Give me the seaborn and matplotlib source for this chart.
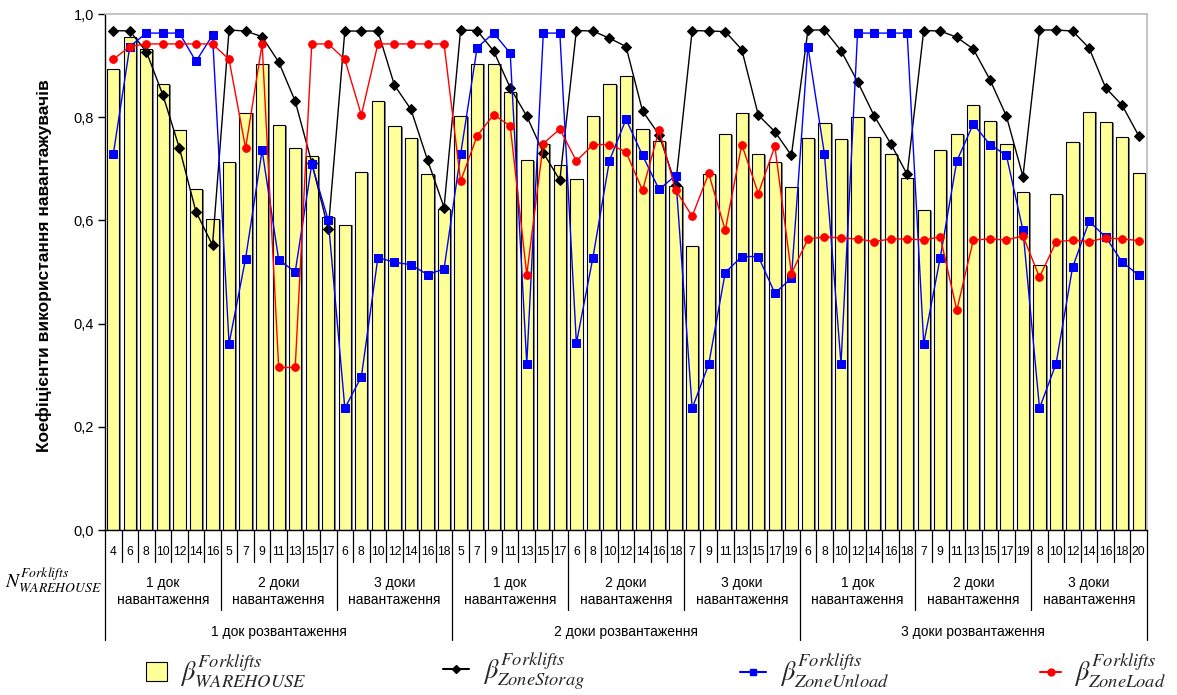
import numpy as np
import pandas as pd
import matplotlib
matplotlib.use("Agg")
import matplotlib.pyplot as plt
import matplotlib.patheffects as pe
from matplotlib.ticker import FuncFormatter
from matplotlib.lines import Line2D
from matplotlib.patches import Patch
import seaborn as sns

# ---------------- data ----------------
unload_groups = ["1 док розвантаження", "2 доки розвантаження", "3 доки розвантаження"]
load_groups = ["1 док\nнавантаження", "2 доки\nнавантаження", "3 доки\nнавантаження"]

n_forklifts = [
    "4", "6", "8", "10", "12", "14", "16",
    "5", "7", "9", "11", "13", "15", "17",
    "6", "8", "10", "12", "14", "16", "18",
    "5", "7", "9", "11", "13", "15", "17",
    "6", "8", "10", "12", "14", "16", "18",
    "7", "9", "11", "13", "15", "17", "19",
    "6", "8", "10", "12", "14", "16", "18",
    "7", "9", "11", "13", "15", "17", "19",
    "8", "10", "12", "14", "16", "18", "20",
]

beta_warehouse = [
    0.893, 0.956, 0.932, 0.864, 0.776, 0.660, 0.602,
    0.713, 0.809, 0.904, 0.784, 0.740, 0.725, 0.606,
    0.592, 0.694, 0.832, 0.782, 0.759, 0.689, 0.622,
    0.802, 0.904, 0.904, 0.848, 0.717, 0.749, 0.707,
    0.681, 0.802, 0.864, 0.879, 0.777, 0.753, 0.667,
    0.551, 0.690, 0.768, 0.809, 0.729, 0.713, 0.665,
    0.760, 0.788, 0.758, 0.800, 0.761, 0.728, 0.683,
    0.620, 0.736, 0.767, 0.824, 0.793, 0.749, 0.655,
    0.514, 0.651, 0.751, 0.811, 0.790, 0.762, 0.692,
]

beta_storage = [
    0.968, 0.967, 0.927, 0.843, 0.740, 0.617, 0.552,
    0.969, 0.967, 0.956, 0.907, 0.831, 0.712, 0.583,
    0.967, 0.967, 0.967, 0.862, 0.815, 0.717, 0.625,
    0.969, 0.968, 0.928, 0.857, 0.802, 0.731, 0.678,
    0.968, 0.967, 0.953, 0.937, 0.812, 0.766, 0.669,
    0.968, 0.967, 0.966, 0.931, 0.804, 0.772, 0.726,
    0.969, 0.969, 0.929, 0.869, 0.803, 0.749, 0.689,
    0.968, 0.967, 0.955, 0.932, 0.873, 0.802, 0.685,
    0.969, 0.969, 0.967, 0.934, 0.857, 0.823, 0.764,
]

beta_unload = [
    0.728, 0.937, 0.963, 0.963, 0.963, 0.908, 0.959,
    0.361, 0.526, 0.736, 0.524, 0.500, 0.709, 0.600,
    0.236, 0.297, 0.528, 0.519, 0.514, 0.495, 0.506,
    0.728, 0.935, 0.963, 0.924, 0.322, 0.963, 0.963,
    0.362, 0.528, 0.716, 0.796, 0.726, 0.660, 0.687,
    0.236, 0.321, 0.499, 0.530, 0.530, 0.459, 0.488,
    0.937, 0.728, 0.322, 0.963, 0.963, 0.963, 0.963,
    0.361, 0.528, 0.715, 0.787, 0.747, 0.726, 0.581,
    0.236, 0.322, 0.509, 0.598, 0.568, 0.519, 0.494,
]

beta_load = [
    0.912, 0.937, 0.942, 0.942, 0.942, 0.942, 0.942,
    0.912, 0.740, 0.942, 0.315, 0.315, 0.942, 0.942,
    0.912, 0.804, 0.942, 0.942, 0.942, 0.942, 0.942,
    0.676, 0.764, 0.805, 0.783, 0.495, 0.749, 0.777,
    0.715, 0.747, 0.747, 0.733, 0.658, 0.775, 0.659,
    0.608, 0.691, 0.581, 0.747, 0.652, 0.744, 0.497,
    0.564, 0.568, 0.566, 0.564, 0.559, 0.564, 0.564,
    0.562, 0.568, 0.426, 0.562, 0.564, 0.562, 0.570,
    0.490, 0.558, 0.562, 0.559, 0.566, 0.564, 0.561,
]

# ---------------- style ----------------
sns.set_theme(style="white")
plt.rcParams["font.family"] = ["Liberation Sans", "DejaVu Sans"]
plt.rcParams["mathtext.fontset"] = "stix"

W, H = 1177, 695
fig = plt.figure(figsize=(W / 100, H / 100), dpi=100)
fig.patch.set_facecolor("white")

ax_left, ax_right, ax_top, ax_bot = 105, 1147, 14, 530
ax = fig.add_axes([ax_left / W, 1 - ax_bot / H, (ax_right - ax_left) / W, (ax_bot - ax_top) / H])
ax.set_facecolor("white")

n = len(n_forklifts)
df = pd.DataFrame({
    "pos": np.arange(n),
    "warehouse": beta_warehouse,
    "storage": beta_storage,
    "unload": beta_unload,
    "load": beta_load,
})

sns.barplot(data=df, x="pos", y="warehouse", color="#FFFF99", saturation=1,
            edgecolor="black", linewidth=0.8, width=0.74, ax=ax, zorder=2)
for p in ax.patches:
    p.set_path_effects([pe.SimplePatchShadow(offset=(1.4, -0.6), shadow_rgbFace="#808080", alpha=1.0),
                        pe.Normal()])

sns.lineplot(data=df, x="pos", y="storage", color="black", marker="D", markersize=5,
             markeredgecolor="black", linewidth=1.0, ax=ax, zorder=4)
sns.lineplot(data=df, x="pos", y="unload", color="#0000FF", marker="s", markersize=5.5,
             markeredgecolor="#0000FF", linewidth=1.0, ax=ax, zorder=5)
sns.lineplot(data=df, x="pos", y="load", color="#FF0000", marker="o", markersize=5.5,
             markeredgecolor="#FF0000", linewidth=1.0, ax=ax, zorder=6)

ax.set_xlim(-0.5, n - 0.5)
ax.set_ylim(0, 1.0)
ax.set_xticks([])
ax.set_xlabel("")
ax.set_yticks(np.arange(0, 1.01, 0.2))
ax.yaxis.set_major_formatter(FuncFormatter(lambda v, _: f"{v:.1f}".replace(".", ",")))
ax.tick_params(axis="y", which="major", direction="out", length=5, width=1, color="black",
               labelsize=10.5, labelcolor="black", left=True, pad=3)
for s in ["top", "right"]:
    ax.spines[s].set_color("#BBBBBB")
    ax.spines[s].set_linewidth(1.2)
for s in ["left", "bottom"]:
    ax.spines[s].set_color("black")
    ax.spines[s].set_linewidth(1.0)

ax.set_ylabel("Коефіцієнти використання навантажувачів", fontsize=12.5, fontweight="bold", color="black")
ax.yaxis.set_label_coords((52 - ax_left) / (ax_right - ax_left), 0.513)

# ---------------- multi-level category axis ----------------
def fy(py):
    return (ax_bot - py) / (ax_bot - ax_top)

tr = ax.get_xaxis_transform()
for i in range(n + 1):
    if i % 21 == 0:
        end = 640
    elif i % 7 == 0:
        end = 610
    else:
        end = 562
    ax.plot([i - 0.5, i - 0.5], [0, fy(end)], transform=tr, color="black", lw=0.9, clip_on=False, zorder=1)

for i, lab in enumerate(n_forklifts):
    ax.text(i, fy(552), lab, transform=tr, ha="center", va="center", fontsize=8.8, color="black")

for g in range(9):
    ax.text(7 * g + 3, fy(591.5), load_groups[g % 3], transform=tr, ha="center", va="center",
            fontsize=10, color="black", linespacing=1.35)

for k in range(3):
    ax.text(21 * k + 10, fy(632), unload_groups[k], transform=tr, ha="center", va="center",
            fontsize=10, color="black")

fig.text(53 / W, 1 - 580 / H, r"$N^{Forklifts}_{WAREHOUSE}$", ha="center", va="center",
         fontsize=14, color="black")

# ---------------- legend ----------------
handles = [
    Patch(facecolor="#FFFF99", edgecolor="black", linewidth=0.8),
    Line2D([0], [0], color="black", marker="D", markersize=4),
    Line2D([0], [0], color="#0000FF", marker="s", markersize=5),
    Line2D([0], [0], color="#FF0000", marker="o", markersize=5),
]
labels = [
    r"$\beta^{Forklifts}_{WAREHOUSE}$",
    r"$\beta^{Forklifts}_{ZoneStorag}$",
    r"$\beta^{Forklifts}_{ZoneUnload}$",
    r"$\beta^{Forklifts}_{ZoneLoad}$",
]
xs = [146, 443, 740, 1040]
hl = [0.8, 1.0, 1.0, 0.8]
for h, l, x, L in zip(handles, labels, xs, hl):
    fig.legend(handles=[h], labels=[l], loc="center left", bbox_to_anchor=(x / W, 1 - 671 / H),
               frameon=False, fontsize=19, handlelength=L, handleheight=0.75, handletextpad=0.5,
               borderpad=0, borderaxespad=0)

fig.savefig("out.png", dpi=100, facecolor="white")
